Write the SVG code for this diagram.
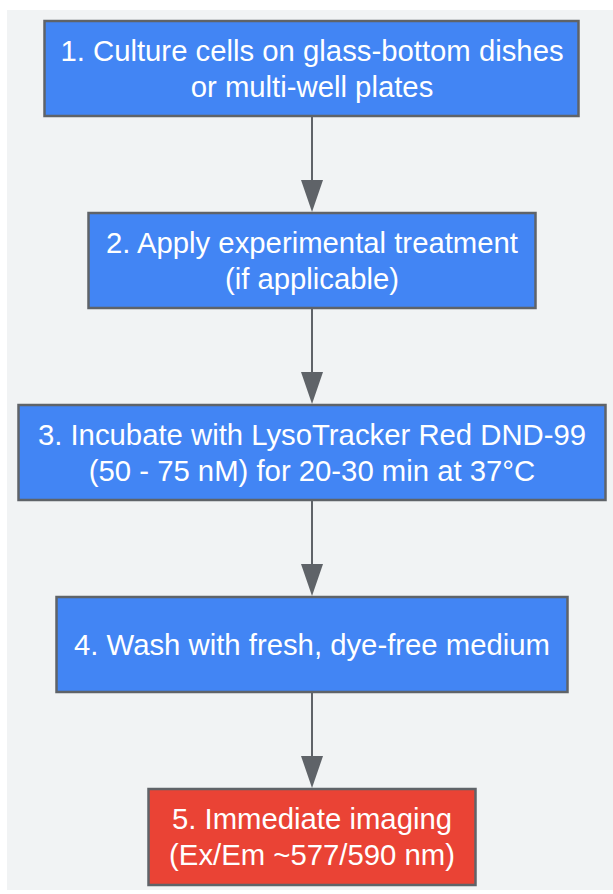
<svg xmlns="http://www.w3.org/2000/svg" width="613" height="894" viewBox="0 0 613 894">
<defs>
<style>
.box{stroke:#5f6368;stroke-width:2.5}
.blue{fill:#4285f4}
.red{fill:#ea4335}
.t{font-family:"Liberation Sans",Arial,sans-serif;font-size:29.3px;fill:#ffffff;text-anchor:middle}
.edge{stroke:#5f6368;stroke-width:2;fill:none}
.head{fill:#5f6368}
</style>
</defs>
<rect x="7" y="10" width="606" height="880" fill="#f1f3f4"/>
<g id="connectors">
<line class="edge" x1="312" y1="117" x2="312" y2="195"/>
<path class="head" d="M301,180 L323,180 L312,212 Z"/>
<line class="edge" x1="312" y1="309" x2="312" y2="387"/>
<path class="head" d="M301,372 L323,372 L312,404 Z"/>
<line class="edge" x1="312" y1="501" x2="312" y2="579"/>
<path class="head" d="M301,564 L323,564 L312,596 Z"/>
<line class="edge" x1="312" y1="693" x2="312" y2="771"/>
<path class="head" d="M301,756 L323,756 L312,788 Z"/>
</g>
<g id="n1">
<rect class="box blue" x="44.5" y="21" width="534" height="95"/>
<text class="t" x="312" y="61">1. Culture cells on glass-bottom dishes</text>
<text class="t" x="312" y="96.5">or multi-well plates</text>
</g>
<g id="n2">
<rect class="box blue" x="88.5" y="213" width="447" height="95"/>
<text class="t" x="312" y="253">2. Apply experimental treatment</text>
<text class="t" x="312" y="288.5">(if applicable)</text>
</g>
<g id="n3">
<rect class="box blue" x="18.5" y="405" width="587" height="95"/>
<text class="t" x="312" y="445">3. Incubate with LysoTracker Red DND-99</text>
<text class="t" x="312" y="480.5">(50 - 75 nM) for 20-30 min at 37°C</text>
</g>
<g id="n4">
<rect class="box blue" x="56.5" y="597" width="511" height="95"/>
<text class="t" x="312" y="654.5">4. Wash with fresh, dye-free medium</text>
</g>
<g id="n5">
<rect class="box red" x="148.5" y="789" width="327" height="96"/>
<text class="t" x="312" y="829">5. Immediate imaging</text>
<text class="t" x="312" y="865">(Ex/Em ~577/590 nm)</text>
</g>
</svg>
